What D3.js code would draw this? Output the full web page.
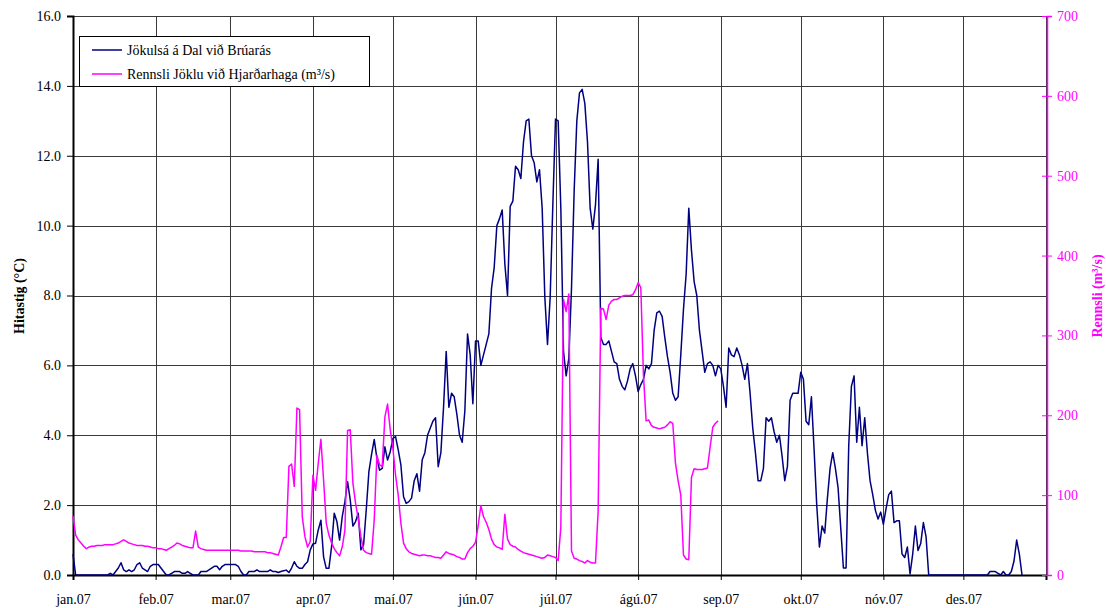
<!DOCTYPE html>
<html>
<head>
<meta charset="utf-8">
<script src="https://cdn.jsdelivr.net/npm/d3@7"></script>
<style>
    body { margin: 0; background: #fff; }
    text { font-family: "Liberation Serif", "Times New Roman", serif; }
</style>
</head>
<body>
<svg id="chart" width="1106" height="608"></svg>
<script>
// daily values from 1 jan 2007
var startDate = new Date(2007, 0, 1);
var monthLabels = ["jan.07", "feb.07", "mar.07", "apr.07", "maí.07", "jún.07",
                   "júl.07", "ágú.07", "sep.07", "okt.07", "nóv.07", "des.07"];
var tempTicks = [0, 2, 4, 6, 8, 10, 12, 14, 16];
var flowTicks = [0, 100, 200, 300, 400, 500, 600, 700];

// Jökulsá á Dal við Brúarás, °C
var hitastig = [
    // jan
    0.6, 0, 0, 0, 0, 0, 0, 0, 0, 0, 0, 0, 0, 0, 0.05, 0, 0.1, 0.2, 0.35, 0.15,
    0.1, 0.15, 0.1, 0.15, 0.3, 0.35, 0.2, 0.15, 0.1, 0.25, 0.3,
    // feb
    0.3, 0.3, 0.2, 0.1, 0, 0, 0.05, 0.1, 0.1, 0.1, 0.05, 0.05, 0.1, 0.05, 0, 0,
    0, 0.1, 0.1, 0.1, 0.15, 0.2, 0.25, 0.25, 0.15, 0.25, 0.3, 0.3,
    // mar
    0.3, 0.3, 0.3, 0.25, 0.1, 0, 0, 0.1, 0.1, 0.1, 0.15, 0.1, 0.1, 0.1, 0.1, 0.15,
    0.1, 0.1, 0.07, 0.1, 0.12, 0.14, 0.07, 0.2, 0.38, 0.25, 0.19, 0.19, 0.3, 0.38, 0.72,
    // apr
    0.89, 0.91, 1.29, 1.57, 0.52, 0.19, 0.19, 0.81, 1.77, 1.53, 1.0, 1.67, 2.1, 2.67,
    2.15, 1.4, 1.53, 1.77, 0.72, 0.86, 1.86, 2.96, 3.45, 3.88, 3.34, 3.0, 3.05, 3.67,
    3.29, 3.53,
    // maí
    3.91, 3.96, 3.58, 3.15, 2.24, 2.05, 2.1, 2.2, 2.7, 2.9, 2.4, 3.3, 3.5, 4.0, 4.2,
    4.4, 4.5, 3.1, 3.5, 4.8, 6.4, 4.8, 5.2, 5.1, 4.6, 4.0, 3.8, 4.7, 6.9, 6.3, 4.9,
    // jún
    6.7, 6.7, 6.0, 6.3, 6.6, 6.9, 8.2, 8.8, 10.0, 10.2, 10.45, 8.9, 8.0, 10.55, 10.7,
    11.7, 11.6, 11.35, 12.4, 13.0, 13.05, 12.0, 11.8, 11.25, 11.6, 10.5, 7.95, 6.6,
    7.95, 10.6,
    // júl
    13.05, 13.0, 10.5, 6.4, 5.7, 6.2, 8.2, 11.0, 13.0, 13.8, 13.9, 13.5, 12.4, 10.5,
    9.9, 10.6, 11.9, 6.8, 6.6, 6.6, 6.7, 6.4, 6.1, 6.05, 5.6, 5.4, 5.3, 5.55, 5.9,
    6.05, 5.7,
    // ágú
    5.25, 5.45, 5.6, 6.0, 5.9, 6.05, 7.0, 7.5, 7.55, 7.4, 6.8, 6.25, 5.8, 5.2, 5.0,
    5.1, 6.3, 7.6, 8.6, 10.5, 9.3, 8.4, 8.0, 7.0, 6.4, 5.8, 6.05, 6.1, 6.0, 5.7, 6.0,
    // sep
    5.9, 5.4, 4.8, 6.5, 6.3, 6.25, 6.5, 6.3, 6.0, 5.6, 6.05, 5.2, 4.2, 3.5, 2.7, 2.7,
    3.05, 4.5, 4.4, 4.5, 4.1, 3.8, 4.0, 3.4, 2.7, 3.1, 5.0, 5.2, 5.2, 5.2,
    // okt
    5.8, 5.6, 4.4, 4.3, 5.1, 3.6, 2.0, 0.8, 1.4, 1.2, 2.2, 3.05, 3.5, 3.05, 2.5, 1.35,
    0.2, 0.2, 3.7, 5.4, 5.7, 3.8, 4.8, 3.7, 4.5, 3.5, 2.7, 2.3, 1.85, 1.6, 1.8,
    // nóv
    1.45, 1.9, 2.3, 2.4, 1.5, 1.55, 1.55, 0.6, 0.5, 0.8, 0.03, 0.6, 1.4, 0.7, 0.9, 1.5,
    1.1, 0, 0, 0, 0, 0, 0, 0, 0, 0, 0, 0, 0, 0,
    // des
    0, 0, 0, 0, 0, 0, 0, 0, 0, 0, 0.1, 0.1, 0.1, 0.05, 0, 0.1, 0, 0, 0.1, 0.4, 1.0, 0.6, 0
];

// Rennsli Jöklu við Hjarðarhaga, m³/s
var rennsli = [
    // jan
    74, 50, 44, 40, 36, 33, 35, 36, 36, 37, 37, 37, 38, 38, 38, 38, 39, 40, 42, 44,
    42, 40, 39, 38, 37, 37, 37, 36, 36, 35, 34,
    // feb
    34, 33, 33, 32, 31, 33, 35, 37, 40, 39, 37, 36, 35, 34, 34, 55, 35, 33, 32, 31,
    31, 31, 31, 31, 31, 31, 31, 31,
    // mar
    31, 31, 31, 31, 30, 30, 30, 30, 30, 29, 29, 29, 29, 29, 28, 28, 27, 26,
    25, 35, 47, 47, 136, 139, 111, 209, 207, 73, 48, 35, 42,
    // apr
    125, 106, 140, 170, 119, 65, 50, 40, 33, 28, 24, 35, 56, 181, 182, 115, 90, 70,
    48, 31, 28, 27, 26, 69, 150, 138, 136, 198, 214, 182,
    // maí
    159, 125, 100, 65, 40, 33, 29, 27, 26, 25, 24, 25, 25, 24, 24, 23, 22, 22, 21,
    25, 29, 27, 26, 25, 23, 22, 20, 20, 28, 33, 36,
    // jún
    41, 62, 87, 73, 66, 57, 45, 38, 35, 34, 32, 76, 45, 38, 36, 35, 32, 30, 28, 27,
    26, 25, 24, 23, 22, 21, 22, 25, 24, 23,
    // júl
    22, 18, 60, 345, 330, 352, 30, 21, 20, 18, 17, 15, 18, 16, 15, 15, 80, 334, 333,
    320, 338, 343, 345, 345, 347, 349, 350, 350, 350, 351, 357,
    // ágú
    366, 360, 250, 193, 194, 187, 185, 184, 183, 184, 185, 188, 192, 190, 140, 118,
    100, 25, 20, 19, 122, 133, 132, 132, 132, 133, 134, 160, 185, 190, 193
];

var plotLeft = 73, plotRight = 1046, plotTop = 16, plotBottom = 575;
var navy = "#000080", magenta = "#FF00FF";

var svg = d3.select("#chart");

var x = d3.scaleTime()
    .domain([startDate, new Date(2008, 0, 1)])
    .range([plotLeft, plotRight]);
var yT = d3.scaleLinear().domain([0, 16]).range([plotBottom, plotTop]);
var yQ = d3.scaleLinear().domain([0, 700]).range([plotBottom, plotTop]);

var day = function (i) {
    return d3.timeDay.offset(startDate, i);
};
var months = d3.timeMonth.range(startDate, new Date(2008, 0, 2));

// grid
var grid = svg.append("g").attr("stroke", "#3a3a3a").attr("stroke-width", 1);
grid.selectAll("line.h")
    .data(tempTicks)
    .enter()
    .append("line")
    .attr("x1", plotLeft).attr("x2", plotRight)
    .attr("y1", function (d) { return Math.round(yT(d)) + 0.5; })
    .attr("y2", function (d) { return Math.round(yT(d)) + 0.5; });
grid.selectAll("line.v")
    .data(months)
    .enter()
    .append("line")
    .attr("x1", function (d) { return Math.round(x(d)) + 0.5; })
    .attr("x2", function (d) { return Math.round(x(d)) + 0.5; })
    .attr("y1", plotTop).attr("y2", plotBottom);

// left axis
var axL = svg.append("g")
    .attr("transform", "translate(" + plotLeft + ",0)")
    .call(d3.axisLeft(yT).tickValues(tempTicks).tickFormat(d3.format(".1f"))
        .tickSize(6).tickPadding(6));
axL.select(".domain").attr("stroke", "#000").attr("stroke-width", 2);
axL.selectAll(".tick text").attr("font-size", 14).attr("fill", "#000")
    .style("font-family", "'Liberation Serif', serif");

// bottom axis
var axB = svg.append("g")
    .attr("transform", "translate(0," + plotBottom + ")")
    .call(d3.axisBottom(x).tickValues(months)
        .tickFormat(function (d) { return d.getFullYear() === 2007 ? monthLabels[d.getMonth()] : ""; })
        .tickSize(5).tickPadding(14));
axB.select(".domain").attr("stroke", "#000").attr("stroke-width", 2);
axB.selectAll(".tick text").attr("font-size", 14).attr("fill", "#000")
    .style("font-family", "'Liberation Serif', serif");

// right axis
var axR = svg.append("g")
    .attr("transform", "translate(" + (plotRight + 1) + ",0)")
    .call(d3.axisRight(yQ).tickValues(flowTicks).tickSize(5).tickPadding(5));
axR.select(".domain").attr("stroke", magenta).attr("stroke-width", 1.5);
axR.selectAll(".tick line").attr("stroke", magenta).attr("x1", -5).attr("x2", 5);
axR.selectAll(".tick text").attr("font-size", 14).attr("fill", magenta)
    .style("font-family", "'Liberation Serif', serif");

// titles
svg.append("text")
    .attr("transform", "translate(24,296) rotate(-90)")
    .attr("text-anchor", "middle")
    .attr("font-size", 14)
    .attr("font-weight", "bold")
    .text("Hitastig (°C)");
svg.append("text")
    .attr("transform", "translate(1102,296) rotate(-90)")
    .attr("text-anchor", "middle")
    .attr("font-size", 14)
    .attr("font-weight", "bold")
    .attr("fill", magenta)
    .text("Rennsli (m³/s)");

// series
var lineT = d3.line()
    .x(function (d, i) { return x(day(i)); })
    .y(function (d) { return yT(d); });
var lineQ = d3.line()
    .defined(function (d) { return d != null; })
    .x(function (d, i) { return x(day(i)); })
    .y(function (d) { return yQ(d); });

svg.append("path")
    .datum(hitastig)
    .attr("d", lineT)
    .attr("fill", "none")
    .attr("stroke", navy)
    .attr("stroke-width", 1.5)
    .attr("stroke-linejoin", "round");
svg.append("path")
    .datum(rennsli)
    .attr("d", lineQ)
    .attr("fill", "none")
    .attr("stroke", magenta)
    .attr("stroke-width", 1.5)
    .attr("stroke-linejoin", "round");

// legend
var legend = svg.append("g");
legend.append("rect")
    .attr("x", 79.5).attr("y", 36.5)
    .attr("width", 290).attr("height", 50)
    .attr("fill", "#fff")
    .attr("stroke", "#000");
var items = [
    { label: "Jökulsá á Dal við Brúarás", color: navy },
    { label: "Rennsli Jöklu við Hjarðarhaga (m³/s)", color: magenta }
];
var item = legend.selectAll("g.item")
    .data(items)
    .enter()
    .append("g")
    .attr("transform", function (d, i) { return "translate(0," + (50 + i * 24) + ")"; });
item.append("line")
    .attr("x1", 92).attr("x2", 122)
    .attr("y1", 0).attr("y2", 0)
    .attr("stroke", function (d) { return d.color; })
    .attr("stroke-width", 1.5);
item.append("text")
    .attr("x", 127).attr("y", 5)
    .attr("font-size", 14)
    .text(function (d) { return d.label; });
</script>
</body>
</html>
